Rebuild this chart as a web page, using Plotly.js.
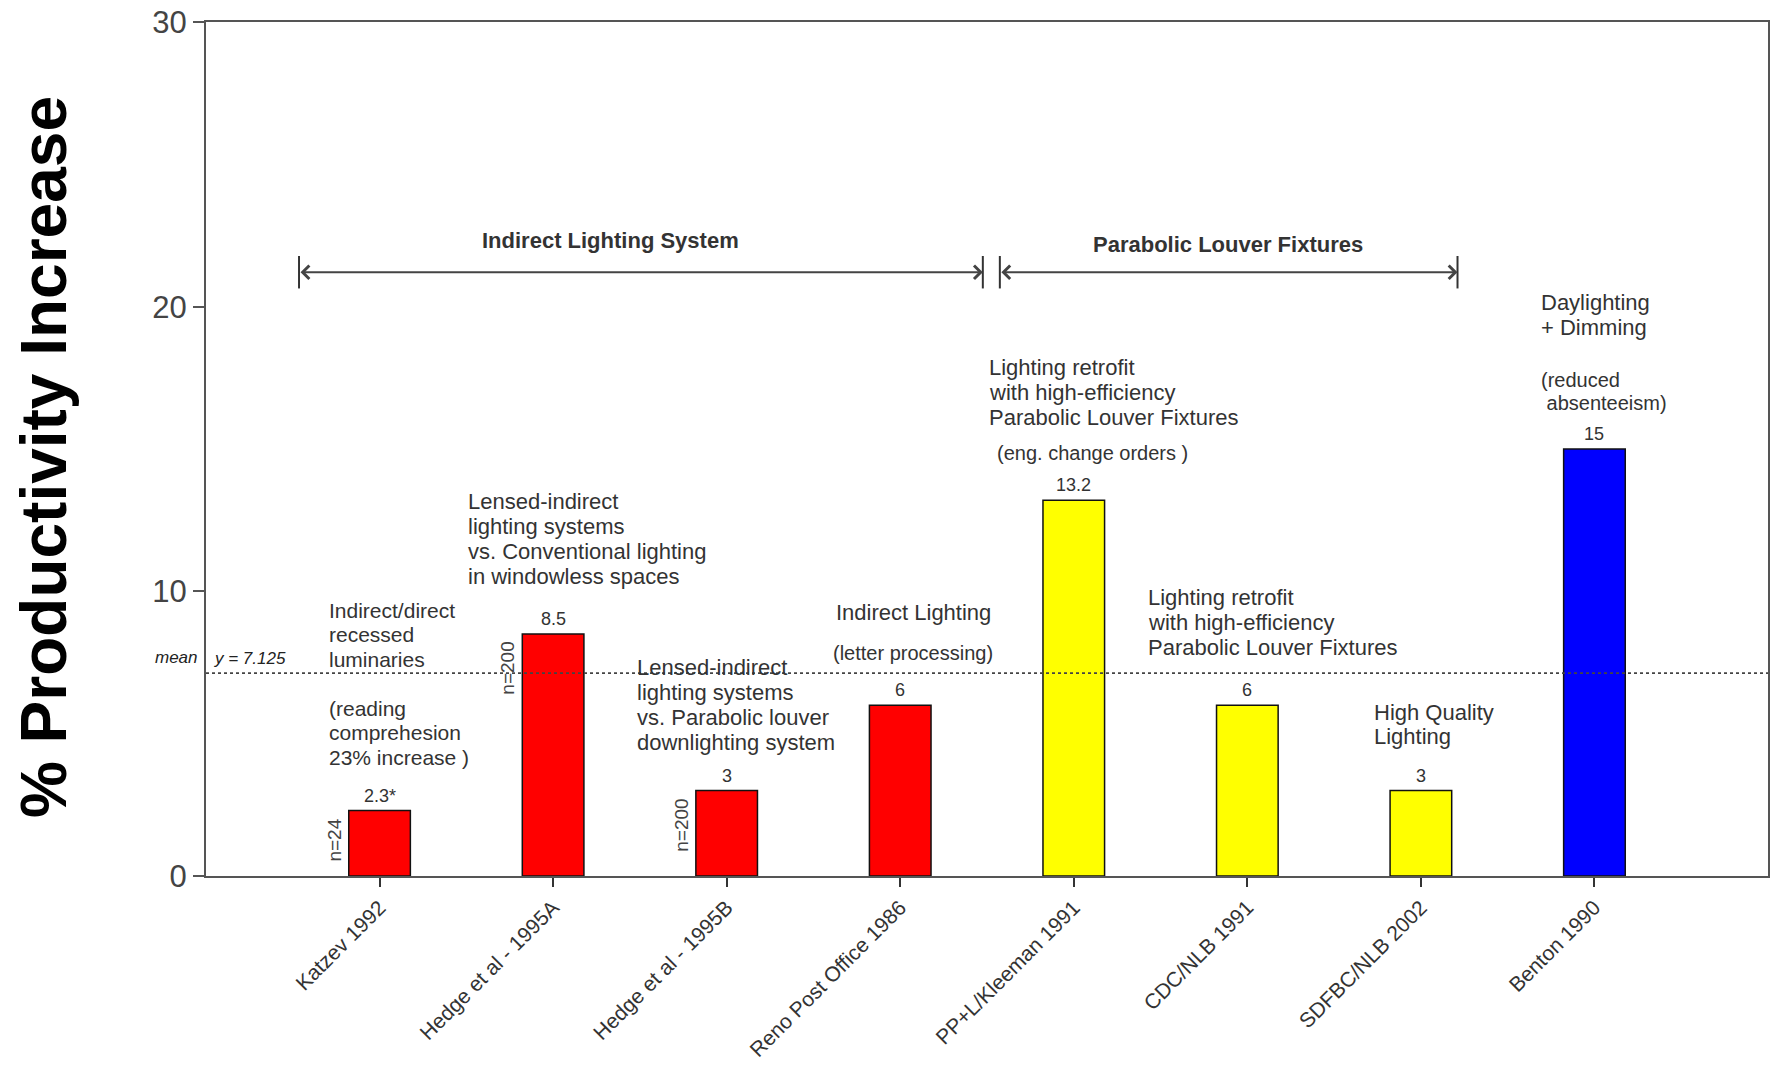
<!DOCTYPE html>
<html>
<head>
<meta charset="utf-8">
<script src="https://cdn.plot.ly/plotly-3.0.1.min.js"></script>
<style>
  html, body { margin: 0; padding: 0; background: #ffffff; }
  #chart { width: 1772px; height: 1068px; }
</style>
</head>
<body>
<div id="chart"></div>
<script>
// Lighting studies and the productivity gain each one reported (%)
const studies = [
  "Katzev 1992", "Hedge et al - 1995A", "Hedge et al - 1995B", "Reno Post Office 1986",
  "PP+L/Kleeman 1991", "CDC/NLB 1991", "SDFBC/NLB 2002", "Benton 1990"
];
const gains = [2.3, 8.5, 3, 6, 13.2, 6, 3, 15];
const gainNotes = ["*", "", "", "", "", "", "", ""];
const sampleSizes = ["n=24", "n=200", "n=200", "", "", "", "", ""];
const barColors = ["#ff0000", "#ff0000", "#ff0000", "#ff0000", "#ffff00", "#ffff00", "#ffff00", "#0000ff"];
const groupNames = ["Indirect Lighting System", "Parabolic Louver Fixtures"];

// Descriptions written next to the bars
const katzevNote = ["Indirect/direct", "recessed", "luminaries", "", "(reading", "comprehesion", "23% increase )"];
const hedgeANote = ["Lensed-indirect", "lighting systems", "vs. Conventional lighting", "in windowless spaces"];
const hedgeBNote = ["Lensed-indirect", "lighting systems", "vs. Parabolic louver", "downlighting system"];
const renoNote = ["Indirect Lighting"];
const renoDetail = ["(letter processing)"];
const kleemanNote = ["Lighting retrofit", "with high-efficiency", "Parabolic Louver Fixtures"];
const kleemanDetail = ["(eng. change orders )"];
const cdcNote = ["Lighting retrofit", "with high-efficiency", "Parabolic Louver Fixtures"];
const sdfbcNote = ["High Quality", "Lighting"];
const bentonNote = ["Daylighting", "+ Dimming"];
const bentonDetail = ["(reduced", "\u00a0absenteeism)"];

const mean = gains.reduce((a, b) => a + b, 0) / gains.length;

const FONT = "Liberation Sans, Arial, Helvetica, sans-serif";
const TXT = "#333333";
const idx = studies.map((_, i) => i);

const bars = {
  type: "bar",
  x: idx,
  y: gains,
  width: 0.355,
  marker: { color: barColors, line: { color: "#111111", width: 1.5 } },
  hoverinfo: "skip",
  showlegend: false
};

const annotations = [];

// value above each bar, sample size along its left side
idx.forEach(i => {
  annotations.push({
    x: i, y: gains[i], xref: "x", yref: "y",
    text: String(gains[i]) + gainNotes[i],
    showarrow: false, yanchor: "bottom", yshift: 3,
    font: { family: FONT, size: 18, color: TXT }
  });
  if (sampleSizes[i]) {
    annotations.push({
      x: i - 0.265, y: gains[i], xref: "x", yref: "y",
      text: sampleSizes[i], textangle: -90,
      showarrow: false, yanchor: "top", yshift: -6,
      font: { family: FONT, size: 19, color: "#444444" }
    });
  }
});

// multi-line notes: one annotation per line so the line step stays tight
function note(x, y, lines, size, step) {
  lines.forEach((t, k) => {
    if (!t) return;
    annotations.push({
      x: x, y: y, xref: "x", yref: "y", text: t,
      showarrow: false, xanchor: "left", yanchor: "middle",
      yshift: -k * step,
      font: { family: FONT, size: size, color: TXT }
    });
  });
}
note(-0.30, 9.34, katzevNote, 21, 24.5);
note(0.50, 13.14, hedgeANote, 22, 25);
note(1.47, 7.34, hedgeBNote, 22, 25);
note(2.62, 9.27, renoNote, 22, 25);
note(2.60, 7.83, renoDetail, 20, 25);
note(3.50, 17.88, kleemanNote, 22, 25);
note(3.545, 14.86, kleemanDetail, 20, 25);
note(4.415, 9.77, cdcNote, 22, 25);
note(5.72, 5.76, sdfbcNote, 22, 24);
note(6.68, 20.16, bentonNote, 22, 25);
note(6.68, 17.42, bentonDetail, 20, 23);

// group spans with double-headed arrows
const spanY = 21.21;
const spans = [
  { from: -0.464, to: 3.476, label: groupNames[0], lx: 1.33, ly: 22.31 },
  { from: 3.574, to: 6.211, label: groupNames[1], lx: 4.888, ly: 22.19 }
];
const shapes = [];
spans.forEach(s => {
  annotations.push({
    x: s.to, y: spanY, ax: s.from, ay: spanY,
    xref: "x", yref: "y", axref: "x", ayref: "y",
    text: "", showarrow: true, arrowside: "end+start",
    arrowhead: 4, arrowsize: 1.3, arrowwidth: 2, arrowcolor: "#444444",
    standoff: 0, startstandoff: 0
  });
  annotations.push({
    x: s.lx, y: s.ly, xref: "x", yref: "y", text: "<b>" + s.label + "</b>",
    showarrow: false, font: { family: FONT, size: 22, color: TXT }
  });
  [s.from, s.to].forEach(xv => shapes.push({
    type: "line", xref: "x", yref: "y",
    x0: xv, x1: xv, y0: spanY - 0.57, y1: spanY + 0.57,
    line: { color: "#333333", width: 2 }
  }));
});

// mean reference line
shapes.push({
  type: "line", xref: "paper", yref: "y",
  x0: 0, x1: 1, y0: mean, y1: mean,
  line: { color: "#444444", width: 1.6, dash: "dot" }
});
annotations.push({
  x: -0.004, y: mean, xref: "paper", yref: "y", xanchor: "right",
  text: "<i>mean</i>", showarrow: false, yshift: 16,
  font: { family: FONT, size: 17, color: "#222222" }
});
annotations.push({
  x: 0.004, y: mean, xref: "paper", yref: "y", xanchor: "left",
  text: "<i>y = " + mean.toFixed(3) + "</i>", showarrow: false, yshift: 15,
  font: { family: FONT, size: 17, color: "#222222" }
});

// y-axis title
annotations.push({
  x: -0.104, y: 0.49, xref: "paper", yref: "paper",
  text: "<b>% Productivity Increase</b>", textangle: -90,
  showarrow: false, xanchor: "center", yanchor: "middle",
  font: { family: FONT, size: 64, color: "#000000" }
});

const layout = {
  width: 1772,
  height: 1068,
  margin: { l: 206, r: 4, t: 22, b: 192 },
  paper_bgcolor: "#ffffff",
  plot_bgcolor: "#ffffff",
  showlegend: false,
  font: { family: FONT, color: TXT },
  xaxis: {
    range: [-1, 8],
    tickmode: "array",
    tickvals: idx,
    ticktext: studies,
    tickangle: -45,
    tickfont: { family: FONT, size: 21, color: TXT },
    ticks: "outside", ticklen: 9, tickwidth: 2, tickcolor: "#333333",
    showline: true, linecolor: "#555555", linewidth: 2, mirror: true,
    showgrid: false, zeroline: false
  },
  yaxis: {
    range: [0, 30],
    tickmode: "array",
    tickvals: [0, 10, 20, 30],
    tickfont: { family: FONT, size: 31, color: "#444444" },
    ticks: "outside", ticklen: 11, tickwidth: 2, tickcolor: "#555555",
    showline: true, linecolor: "#555555", linewidth: 2, mirror: true,
    showgrid: false, zeroline: false
  },
  shapes: shapes,
  annotations: annotations
};

Plotly.newPlot("chart", [bars], layout, { staticPlot: true, displayModeBar: false });
</script>
</body>
</html>
